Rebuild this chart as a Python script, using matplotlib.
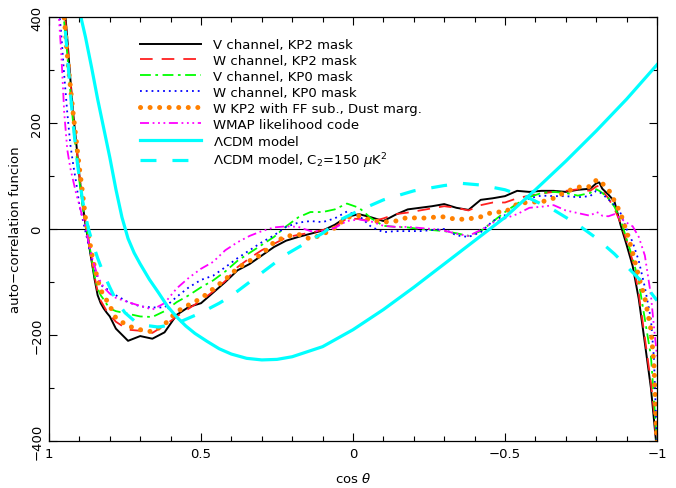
"""
Angular auto-correlation function of the CMB maps vs. LCDM model
=================================================================

Re-draws the comparison of the measured auto-correlation function
(V/W channels, KP0/KP2 masks, foreground-cleaned W band, WMAP likelihood code)
against the LCDM best fit and the LCDM model with a lowered quadrupole.

Run:
    python plot.py
"""

import matplotlib

matplotlib.use("Agg")
import matplotlib.pyplot as plt
from matplotlib.ticker import MultipleLocator


# shared cos(theta) grid for the measured curves
X_OBS = [0.97, 0.96, 0.95, 0.94, 0.93, 0.92, 0.91, 0.90, 0.89, 0.88, 0.87, 0.86, 0.85, 0.84, 0.83, 0.82, 0.81, 0.80,
         0.78, 0.74, 0.70, 0.66, 0.62, 0.58, 0.54, 0.50, 0.46, 0.42, 0.38, 0.34, 0.30, 0.26, 0.22, 0.18, 0.14, 0.10,
         0.06, 0.02, -0.02, -0.06, -0.10, -0.14, -0.18, -0.22, -0.26, -0.30, -0.34, -0.38, -0.42, -0.46, -0.50, -0.54,
         -0.58, -0.62, -0.66, -0.70, -0.74, -0.78, -0.80, -0.81, -0.82, -0.84, -0.86, -0.88, -0.90, -0.92, -0.94,
         -0.96, -0.98, -0.99, -1.00]

V_KP2 = [600, 500, 430, 360, 285, 215, 160, 100, 50, 8, -25, -60, -95, -125, -140, -150, -158, -165,
         -188, -211, -202, -207, -195, -162, -147, -140, -120, -100, -78, -66, -50, -34, -22, -15, -9, -3,
         8, 23, 28, 22, 15, 27, 37, 40, 43, 47, 40, 36, 55, 58, 62, 72,
         70, 72, 72, 70, 74, 76, 86, 88, 76, 65, 52, 8, -30, -70, -132,
         -215, -300, -360, -420]

W_KP2 = [560, 480, 420, 350, 280, 210, 155, 100, 55, 15, -20, -55, -90, -118, -135, -145, -155, -162,
         -175, -190, -192, -196, -182, -165, -150, -135, -118, -98, -72, -55, -40, -28, -16, -11, -7, -2,
         4, 20, 19, 14, 20, 28, 31, 35, 39, 43, 40, 35, 45, 50, 50, 58,
         63, 67, 70, 72, 75, 72, 80, 82, 72, 58, 38, 12, -22, -60, -122,
         -205, -290, -345, -420]

V_KP0 = [520, 450, 390, 330, 260, 195, 140, 90, 45, 10, -20, -55, -90, -112, -125, -133, -142, -150,
         -155, -160, -165, -166, -155, -138, -125, -110, -97, -80, -60, -45, -30, -15, 5, 22, 32, 32,
         37, 48, 40, 20, 6, 4, 3, 0, -2, -4, -8, -13, -4, 14, 32, 48,
         60, 68, 70, 68, 63, 68, 75, 72, 68, 58, 42, 18, -19, -55, -100,
         -170, -240, -320, -410]

W_KP0 = [430, 370, 290, 220, 160, 120, 85, 45, 20, -5, -30, -55, -75, -92, -105, -110, -113, -117,
         -125, -138, -146, -148, -148, -128, -110, -96, -88, -72, -55, -40, -25, -12, 4, 12, 15, 13,
         20, 33, 25, 4, -6, -4, -4, -4, -2, 0, -12, -15, -6, 15, 26, 43,
         58, 63, 62, 62, 60, 62, 72, 70, 66, 56, 45, 30, 0, -25, -60,
         -110, -170, -245, -410]

W_KP2_FF = [540, 460, 400, 330, 270, 215, 165, 115, 70, 20, -10, -45, -72, -95, -115, -125, -135, -145,
            -168, -183, -190, -194, -180, -156, -143, -131, -113, -95, -74, -60, -48, -25, -14, -10, -19, -10,
            2, 22, 25, 16, 13, 15, 22, 20, 22, 23, 18, 19, 23, 32, 32, 47,
            51, 51, 58, 70, 79, 80, 92, 93, 86, 75, 53, 30, -5, -45, -90,
            -130, -190, -255, -410]

WMAP_LIKE = [420, 335, 220, 150, 115, 90, 65, 45, 22, 5, -25, -50, -70, -88, -100, -110, -116, -122,
             -130, -138, -145, -152, -140, -112, -92, -75, -62, -40, -25, -13, -4, 3, 5, 4, -4, -4,
             2, 15, 18, 14, 6, 4, 4, 2, 0, -3, -9, -13, -2, 12, 20, 28,
             40, 42, 45, 35, 30, 25, 32, 30, 25, 24, 28, 20, 12, 5, -15,
             -50, -125, -185, -240]

# LCDM best fit
X_LCDM = [0.92, 0.90, 0.88, 0.86, 0.84, 0.82, 0.80, 0.78, 0.76, 0.74, 0.72, 0.70, 0.67, 0.64, 0.61, 0.58, 0.55,
          0.52, 0.48, 0.44, 0.40, 0.35, 0.30, 0.25, 0.20, 0.10, 0.00, -0.10, -0.20, -0.30, -0.40, -0.50, -0.60,
          -0.70, -0.80, -0.90, -1.00]
Y_LCDM = [470, 412, 362, 305, 245, 190, 135, 75, 22, -18, -45, -66, -95, -120, -146, -166, -183,
          -197, -212, -226, -236, -244, -247, -246, -241, -222, -190, -152, -110, -66, -22, 22, 74,
          128, 185, 245, 310]

# LCDM with C2 = 150 muK^2
X_C2 = [0.97, 0.95, 0.94, 0.93, 0.92, 0.91, 0.90, 0.89, 0.88, 0.87, 0.86, 0.84, 0.82, 0.80, 0.78, 0.75, 0.72,
        0.68, 0.64, 0.60, 0.56, 0.52, 0.48, 0.44, 0.40, 0.34, 0.28, 0.22, 0.16, 0.10, 0.04, -0.02, -0.10, -0.20,
        -0.30, -0.36, -0.42, -0.50, -0.58, -0.66, -0.74, -0.80, -0.86, -0.92, -0.96, -1.00]
Y_C2 = [620, 400, 330, 260, 195, 140, 95, 55, 25, 0, -20, -55, -85, -110, -134, -158, -173,
        -182, -185, -181, -173, -163, -152, -140, -126, -100, -74, -48, -28, -8, 18, 35, 55, 72,
        82, 86, 83, 74, 58, 36, 8, -17, -47, -82, -105, -135]

X_TICKS = [1, 0.5, 0, -0.5, -1]
X_TICK_LABELS = ["1", "0.5", "0", "\u22120.5", "\u22121"]
Y_TICKS = [-400, -200, 0, 200, 400]
Y_TICK_LABELS = ["\u2212400", "\u2212200", "0", "200", "400"]

FS = 9.5


def main():
    fig = plt.figure(figsize=(6.76, 4.89), dpi=100)
    ax = fig.add_axes([0.0725, 0.0961, 0.8994, 0.8671])

    ax.axhline(0, color="black", lw=0.8, zorder=1)

    ax.plot(X_OBS, V_KP2, color="black", lw=1.4, label="V channel, KP2 mask")
    ax.plot(X_OBS, W_KP2, color="#ff2020", lw=1.3, linestyle=(0, (7, 5)), label="W channel, KP2 mask")
    ax.plot(X_OBS, V_KP0, color="#00ff00", lw=1.3, linestyle=(0, (6, 2.5, 1.5, 2.5)), label="V channel, KP0 mask")
    ax.plot(X_OBS, W_KP0, color="#0000ff", lw=1.3, linestyle=(0, (1, 2.2)), label="W channel, KP0 mask")
    ax.plot(X_OBS, W_KP2_FF, color="#ff8000", lw=3.6, linestyle=(0, (0.01, 1.9)), dash_capstyle="round",
            label="W KP2 with FF sub., Dust marg.")
    ax.plot(X_OBS, WMAP_LIKE, color="#ff00ff", lw=1.3, linestyle=(0, (5, 2, 1, 2, 1, 2, 1, 2)),
            label="WMAP likelihood code")
    ax.plot(X_LCDM, Y_LCDM, color="#00ffff", lw=2.3, label=r"$\Lambda$CDM model")
    ax.plot(X_C2, Y_C2, color="#00ffff", lw=2.3, linestyle=(0, (5, 5)),
            label=r"$\Lambda$CDM model, C$_2$=150 $\mu$K$^2$")

    ax.set_xlim(1, -1)
    ax.set_ylim(-400, 400)
    ax.set_xticks(X_TICKS)
    ax.set_xticklabels(X_TICK_LABELS, fontsize=FS)
    ax.set_yticks(Y_TICKS)
    ax.set_yticklabels(Y_TICK_LABELS, fontsize=FS, rotation=90, va="center")
    ax.xaxis.set_minor_locator(MultipleLocator(0.1))
    ax.yaxis.set_minor_locator(MultipleLocator(100))
    ax.tick_params(which="both", direction="in", top=True, right=True, width=0.8)
    ax.tick_params(which="major", length=6, pad=4)
    ax.tick_params(which="minor", length=3.5)
    for sp in ax.spines.values():
        sp.set_linewidth(0.9)

    ax.set_xlabel(r"cos $\theta$", fontsize=FS, labelpad=8)
    ax.set_ylabel("auto\u2212correlation funcion", fontsize=FS, labelpad=6)

    ax.legend(loc="upper left", bbox_to_anchor=(0.1497, 0.95), frameon=False, borderpad=0,
              borderaxespad=0, handlelength=4.6, handletextpad=0.9, labelspacing=0.22, fontsize=FS)

    fig.savefig("out.png", dpi=100)


if __name__ == "__main__":
    main()
